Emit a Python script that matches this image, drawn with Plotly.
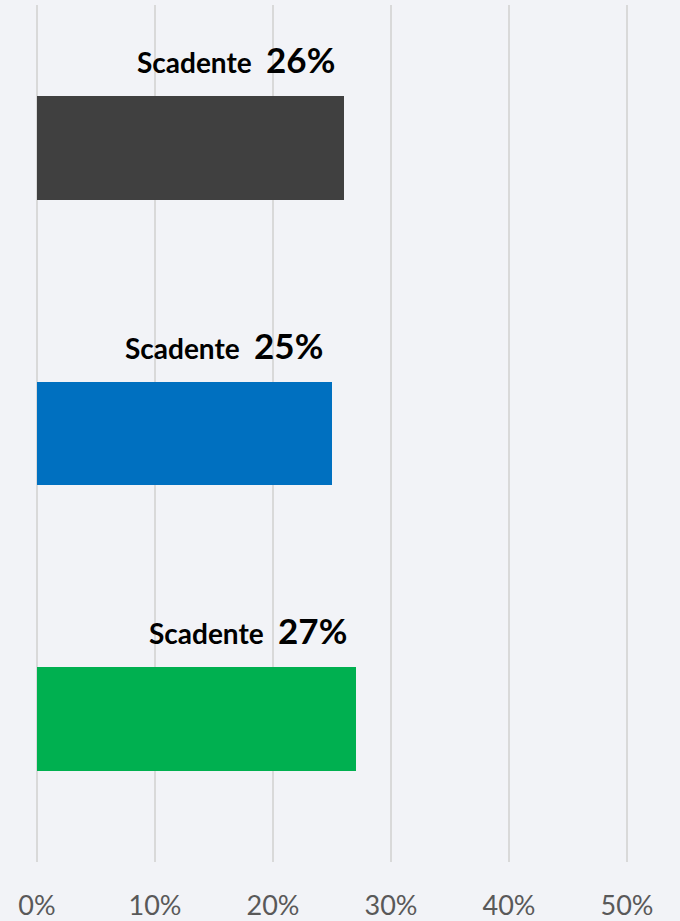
import plotly.graph_objects as go

# Three groups, each with a share rated "Scadente"
categories = ["A", "B", "C"]
values = [0.26, 0.25, 0.27]
labels = ["Scadente", "Scadente", "Scadente"]
colors = ["#404040", "#0070C0", "#00B050"]
tick_vals = [0, 0.1, 0.2, 0.3, 0.4, 0.5]
tick_text = ["0%", "10%", "20%", "30%", "40%", "50%"]

FONT = "Lato, Noto Sans, sans-serif"

fig = go.Figure(
    go.Bar(
        x=values,
        y=categories,
        orientation="h",
        marker=dict(color=colors, line=dict(width=0)),
        width=0.362,
        hoverinfo="skip",
    )
)

for cat, val, lab in zip(categories, values, labels):
    fig.add_annotation(
        x=val,
        y=cat,
        xref="x",
        yref="y",
        xanchor="right",
        yanchor="middle",
        xshift=-7,
        yshift=89,
        showarrow=False,
        text=(
            f"<b>{lab}</b>&nbsp;&nbsp;"
            f"<b><span style='font-size:35px'>{round(val * 100)}%</span></b>"
        ),
        font=dict(family=FONT, size=28, color="#000000"),
    )

fig.update_layout(
    width=680,
    height=921,
    margin=dict(l=37, r=0, t=5, b=56),
    paper_bgcolor="#F2F3F7",
    plot_bgcolor="#F2F3F7",
    showlegend=False,
    bargap=0,
    xaxis=dict(
        range=[0, 0.5 * 643 / 590],
        tickvals=tick_vals,
        ticktext=tick_text,
        showgrid=True,
        gridcolor="#D9D9D9",
        gridwidth=1.5,
        zeroline=True,
        zerolinecolor="#D9D9D9",
        zerolinewidth=1.5,
        showline=False,
        ticks="",
        ticklabelstandoff=25,
        tickfont=dict(family=FONT, size=27, color="#595959"),
        fixedrange=True,
    ),
    yaxis=dict(
        categoryorder="array",
        categoryarray=categories[::-1],
        showticklabels=False,
        showgrid=False,
        zeroline=False,
        showline=False,
        fixedrange=True,
    ),
)

fig.write_html("out.html")
